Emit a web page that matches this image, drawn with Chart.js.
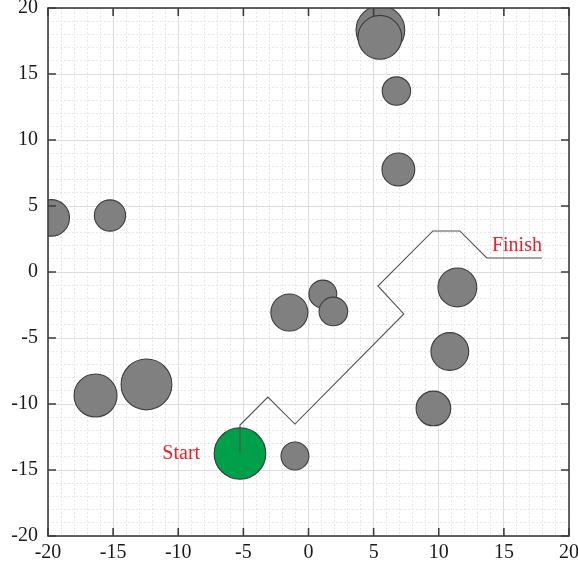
<!DOCTYPE html>
<html><head><meta charset="utf-8">
<script src="https://cdn.jsdelivr.net/npm/chart.js@4.4.1/dist/chart.umd.min.js"></script>
<style>html,body{margin:0;padding:0;background:#fff;} canvas{display:block;}</style>
</head><body>
<canvas id="c" width="578" height="571"></canvas>
<script>
const axisMin = -20, axisMax = 20;
const majorTicks = [-20, -15, -10, -5, 0, 5, 10, 15, 20];
const obstacleX = [-19.75, -15.24, 5.52, 5.48, 6.75, 6.9, -16.35, -12.44, -1.47, 1.1, 1.91, 11.43, 10.85, 9.59, -1.04];
const obstacleY = [4.1, 4.28, 18.33, 17.78, 13.71, 7.77, -9.36, -8.52, -3.07, -1.67, -2.99, -1.17, -6.02, -10.34, -13.94];
const obstacleR = [1.4, 1.2, 1.87, 1.68, 1.09, 1.26, 1.65, 1.95, 1.42, 1.07, 1.1, 1.49, 1.45, 1.33, 1.07];
const startX = [-5.26];
const startY = [-13.75];
const startR = [1.98];
const pathX = [-5.26, -5.26, -3.12, -1.04, 7.32, 5.33, 9.55, 11.62, 13.69, 17.91];
const pathY = [-13.64, -11.59, -9.47, -11.52, -3.18, -1.06, 3.11, 3.11, 1.06, 1.06];
const labelText = ['Start', 'Finish'];
const labelX = [-9.77, 16.0];
const labelY = [-14.17, 1.59];

const FONT = "'Liberation Serif', 'Times New Roman', serif";

function pxPerUnit(chart) {
  const xs = chart.scales.x;
  const d = Math.abs(xs.getPixelForValue(1) - xs.getPixelForValue(0));
  return isFinite(d) ? d : 0;
}
const circleRadius = ctx => (ctx.raw && ctx.raw.size ? ctx.raw.size * pxPerUnit(ctx.chart) : 0);

const framePlugin = {
  id: 'frame',
  afterDatasetsDraw(chart) {
    const { ctx, chartArea: a, scales: { x, y } } = chart;
    ctx.save();
    ctx.strokeStyle = '#3c3c3c';
    ctx.lineWidth = 1.6;
    ctx.strokeRect(a.left, a.top, a.right - a.left, a.bottom - a.top);
    const tl = 8;
    ctx.beginPath();
    majorTicks.forEach(v => {
      const px = x.getPixelForValue(v);
      ctx.moveTo(px, a.bottom); ctx.lineTo(px, a.bottom - tl);
      ctx.moveTo(px, a.top); ctx.lineTo(px, a.top + tl);
      const py = y.getPixelForValue(v);
      ctx.moveTo(a.left, py); ctx.lineTo(a.left + tl, py);
      ctx.moveTo(a.right, py); ctx.lineTo(a.right - tl, py);
    });
    ctx.stroke();
    ctx.fillStyle = '#E8202A';
    ctx.textAlign = 'center';
    ctx.textBaseline = 'alphabetic';
    ctx.font = '20px ' + FONT;
    labelText.forEach((t, i) => {
      ctx.fillText(t, x.getPixelForValue(labelX[i]), y.getPixelForValue(labelY[i]));
    });
    ctx.restore();
  }
};

const minorGridColor = ctx => (ctx.tick && Math.abs(ctx.tick.value % 5) < 1e-9) ? 'rgba(0,0,0,0)' : '#e6e6e6';
const noPad = s => { s.paddingTop = 0; s.paddingBottom = 0; s.paddingLeft = 0; s.paddingRight = 0; };

new Chart(document.getElementById('c'), {
  data: {
    datasets: [
      {
        type: 'line',
        order: 0,
        data: pathX.map((v, i) => ({ x: v, y: pathY[i] })),
        borderColor: '#505050',
        borderWidth: 1.1,
        pointRadius: 0,
        fill: false,
        tension: 0
      },
      {
        type: 'scatter',
        order: 1,
        clip: 0,
        showLine: false,
        data: startX.map((v, i) => ({ x: v, y: startY[i], size: startR[i] })),
        pointBackgroundColor: '#00A04A',
        pointBorderColor: '#2f3a33',
        pointBorderWidth: 1.1,
        pointRadius: circleRadius
      },
      {
        type: 'scatter',
        order: 2,
        clip: 0,
        showLine: false,
        data: obstacleX.map((v, i) => ({ x: v, y: obstacleY[i], size: obstacleR[i] })),
        pointBackgroundColor: '#808080',
        pointBorderColor: '#3d3d3d',
        pointBorderWidth: 1.1,
        pointRadius: circleRadius
      }
    ]
  },
  options: {
    responsive: false,
    animation: false,
    events: [],
    devicePixelRatio: 1,
    layout: { autoPadding: false, padding: { left: 0, top: 8, right: 9, bottom: 0 } },
    plugins: { legend: { display: false }, tooltip: { enabled: false } },
    scales: {
      xMinor: {
        type: 'linear', position: 'bottom', min: axisMin, max: axisMax,
        ticks: { stepSize: 1, display: false, autoSkip: false },
        grid: { color: minorGridColor, drawTicks: false, lineWidth: 1 },
        border: { display: false, dash: [2, 2] },
        afterFit: s => { s.height = 0; noPad(s); }
      },
      yMinor: {
        type: 'linear', position: 'left', min: axisMin, max: axisMax,
        ticks: { stepSize: 1, display: false, autoSkip: false },
        grid: { color: minorGridColor, drawTicks: false, lineWidth: 1 },
        border: { display: false, dash: [2, 2] },
        afterFit: s => { s.width = 0; noPad(s); }
      },
      x: {
        type: 'linear', position: 'bottom', min: axisMin, max: axisMax,
        afterBuildTicks: s => { s.ticks = majorTicks.map(v => ({ value: v })); },
        ticks: { font: { family: FONT, size: 20 }, color: '#1a1a1a', padding: 5, maxRotation: 0, autoSkip: false },
        grid: { color: '#dedede', drawTicks: false, lineWidth: 1 },
        border: { display: false },
        afterFit: s => { s.height = 35; noPad(s); }
      },
      y: {
        type: 'linear', position: 'left', min: axisMin, max: axisMax,
        afterBuildTicks: s => { s.ticks = majorTicks.map(v => ({ value: v })); },
        ticks: { font: { family: FONT, size: 20 }, color: '#1a1a1a', padding: 10, autoSkip: false },
        grid: { color: '#dedede', drawTicks: false, lineWidth: 1 },
        border: { display: false },
        afterFit: s => { s.width = 48; noPad(s); }
      }
    }
  },
  plugins: [framePlugin]
});
</script>
</body></html>
